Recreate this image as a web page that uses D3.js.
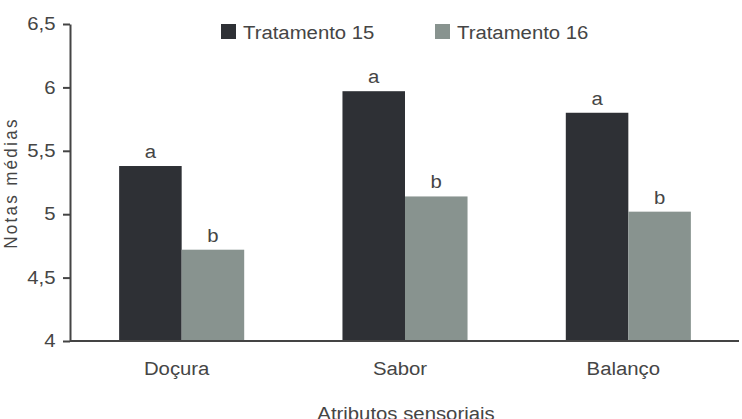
<!DOCTYPE html>
<html>
<head>
<meta charset="utf-8">
<script src="https://cdn.jsdelivr.net/npm/d3@7"></script>
<style>
  html, body { margin: 0; padding: 0; background: #fff; }
  svg { display: block; }
  text { font-family: "Liberation Sans", Arial, Helvetica, sans-serif; fill: #454545; }
</style>
</head>
<body>
<svg id="chart" width="742" height="419"></svg>
<script>
const categories = ["Doçura", "Sabor", "Balanço"];
const seriesNames = ["Tratamento 15", "Tratamento 16"];
const tratamento15 = [5.38, 5.97, 5.80];
const tratamento16 = [4.72, 5.14, 5.02];
const letters15 = ["a", "a", "a"];
const letters16 = ["b", "b", "b"];
const yTicks = [4, 4.5, 5, 5.5, 6, 6.5];
const colors = ["#2e3035", "#88938f"];

(function () {
const SX = 1.13; // horizontal text stretch as in the reference
const mLeft = 70, mRight = 740, mTop = 24, mBottom = 341;

const svg = d3.select("#chart");

const x = d3.scaleBand().domain(categories).range([mLeft, mRight])
  .paddingInner(0.44).paddingOuter(0.22);
const xs = d3.scaleBand().domain(seriesNames).range([0, x.bandwidth()]);
const y = d3.scaleLinear().domain([4, 6.5]).range([mBottom, mTop]);

const rows = categories.map((c, i) => ({
  cat: c,
  vals: [
    { s: seriesNames[0], v: tratamento15[i], l: letters15[i] },
    { s: seriesNames[1], v: tratamento16[i], l: letters16[i] }
  ]
}));

// bars
const g = svg.append("g").selectAll("g").data(rows).join("g")
  .attr("transform", d => `translate(${x(d.cat)},0)`);
g.selectAll("rect").data(d => d.vals).join("rect")
  .attr("x", d => xs(d.s))
  .attr("width", xs.bandwidth())
  .attr("y", d => y(d.v))
  .attr("height", d => y(4) - y(d.v))
  .attr("fill", (d, i) => colors[i]);
g.selectAll("text.lbl").data(d => d.vals).join("text")
  .attr("class", "lbl")
  .attr("text-anchor", "middle")
  .attr("font-size", 18)
  .attr("transform", d => `translate(${xs(d.s) + xs.bandwidth() / 2},${y(d.v) - 8}) scale(${SX},1)`)
  .text(d => d.l);

// y axis
const yAxis = d3.axisLeft(y).tickValues(yTicks).tickSize(7).tickSizeOuter(0)
  .tickFormat(d => String(d).replace(".", ","));
const ya = svg.append("g").attr("transform", `translate(${mLeft},0)`).call(yAxis);
ya.select(".domain").attr("stroke", "#444").attr("stroke-width", 2);
ya.selectAll(".tick line").attr("stroke", "#444").attr("stroke-width", 2);
ya.selectAll(".tick text")
  .attr("font-size", 18)
  .attr("font-family", "Liberation Sans, Arial, sans-serif")
  .attr("fill", "#454545")
  .attr("x", -14.5 / SX)
  .attr("transform", `scale(${SX},1)`);

// x axis line
svg.append("line")
  .attr("x1", mLeft).attr("x2", 739)
  .attr("y1", y(4)).attr("y2", y(4))
  .attr("stroke", "#444").attr("stroke-width", 2);

// category labels
svg.append("g").selectAll("text").data(categories).join("text")
  .attr("text-anchor", "middle")
  .attr("font-size", 18)
  .attr("transform", d => `translate(${x(d) + x.bandwidth() / 2 - 5},375) scale(${SX},1)`)
  .text(d => d);

// axis titles
svg.append("text")
  .attr("text-anchor", "middle")
  .attr("font-size", 18)
  .attr("transform", `translate(406,420) scale(${SX},1)`)
  .text("Atributos sensoriais");
svg.append("text")
  .attr("text-anchor", "middle")
  .attr("font-size", 17)
  .attr("letter-spacing", 2.3)
  .attr("transform", `translate(17,183) rotate(-90) scale(1,${SX})`)
  .text("Notas médias");

// legend
const legX = [221, 435];
const lg = svg.append("g").selectAll("g").data(seriesNames).join("g")
  .attr("transform", (d, i) => `translate(${legX[i]},24)`);
lg.append("rect").attr("width", 15).attr("height", 15)
  .attr("fill", (d, i) => colors[i]);
lg.append("text")
  .attr("font-size", 18)
  .attr("transform", `translate(22,14.5) scale(${SX},1)`)
  .text(d => d);
})();
</script>
</body>
</html>
